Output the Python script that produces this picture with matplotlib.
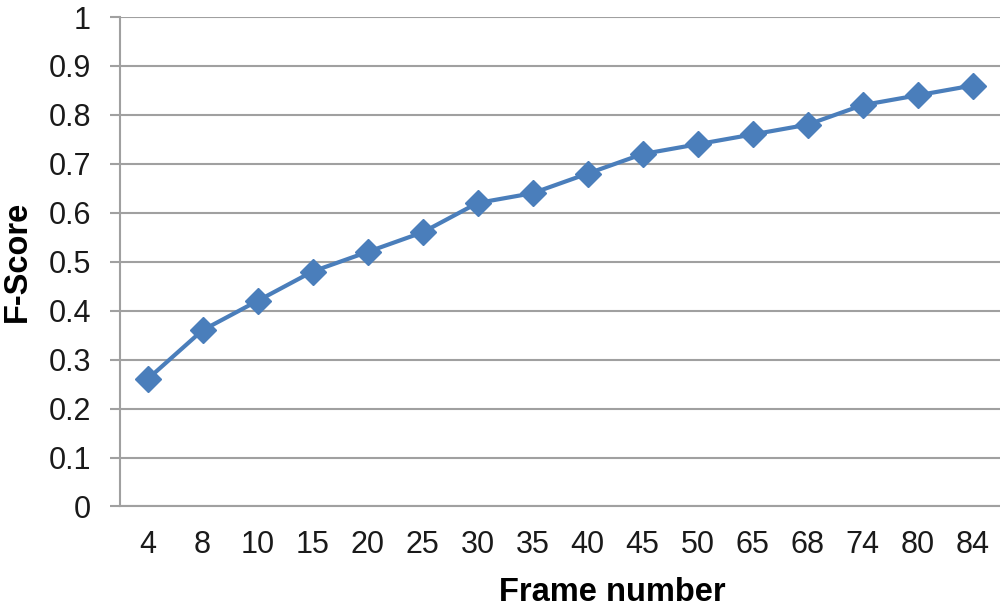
import matplotlib
matplotlib.use("Agg")
import matplotlib.pyplot as plt

frames = ["4", "8", "10", "15", "20", "25", "30", "35", "40", "45",
          "50", "65", "68", "74", "80", "84"]
f_score = [0.26, 0.36, 0.42, 0.48, 0.52, 0.56, 0.62, 0.64, 0.68, 0.72,
           0.74, 0.76, 0.78, 0.82, 0.84, 0.86]
y_ticks = [0, 0.1, 0.2, 0.3, 0.4, 0.5, 0.6, 0.7, 0.8, 0.9, 1]
y_labels = ["0", "0.1", "0.2", "0.3", "0.4", "0.5", "0.6", "0.7", "0.8", "0.9", "1"]

plt.rcParams["font.family"] = ["Liberation Sans", "DejaVu Sans"]

grid_col = "#a0a0a0"
blue = "#4a7ebb"

fig = plt.figure(figsize=(10, 6.12), dpi=100)
ax = fig.add_axes([0.12, 0.1724, 0.88, 0.7998])

x = list(range(len(frames)))
ax.plot(x, f_score, color=blue, lw=3, marker="D", markersize=13.5,
        markerfacecolor=blue, markeredgecolor=blue, zorder=3, clip_on=False)

ax.set_xlim(-0.5, len(frames) - 0.5)
ax.set_ylim(0, 1)
ax.set_xticks(x)
ax.set_xticklabels(frames, fontsize=22, color="#1a1a1a")
ax.set_yticks(y_ticks)
ax.set_yticklabels(y_labels, fontsize=22, color="#1a1a1a")

# horizontal grid only
ax.yaxis.grid(True, color=grid_col, lw=1.5)
ax.set_axisbelow(True)

for s in ["top", "right"]:
    ax.spines[s].set_visible(False)
for s in ["left", "bottom"]:
    ax.spines[s].set_color(grid_col)
    ax.spines[s].set_linewidth(1.5)

ax.tick_params(axis="y", length=7, width=1.5, color=grid_col, pad=14)
ax.tick_params(axis="x", length=0, pad=17)

ax.set_xlabel("Frame number", fontsize=23.5, fontweight="bold")
ax.xaxis.label.set_va("center")
ax.xaxis.set_label_coords(0.56, -0.175)
ax.set_ylabel("F-Score", fontsize=23.5, fontweight="bold")
ax.yaxis.label.set_va("center")
ax.yaxis.set_label_coords(-0.117, 0.5)

fig.savefig("out.png", dpi=100)
